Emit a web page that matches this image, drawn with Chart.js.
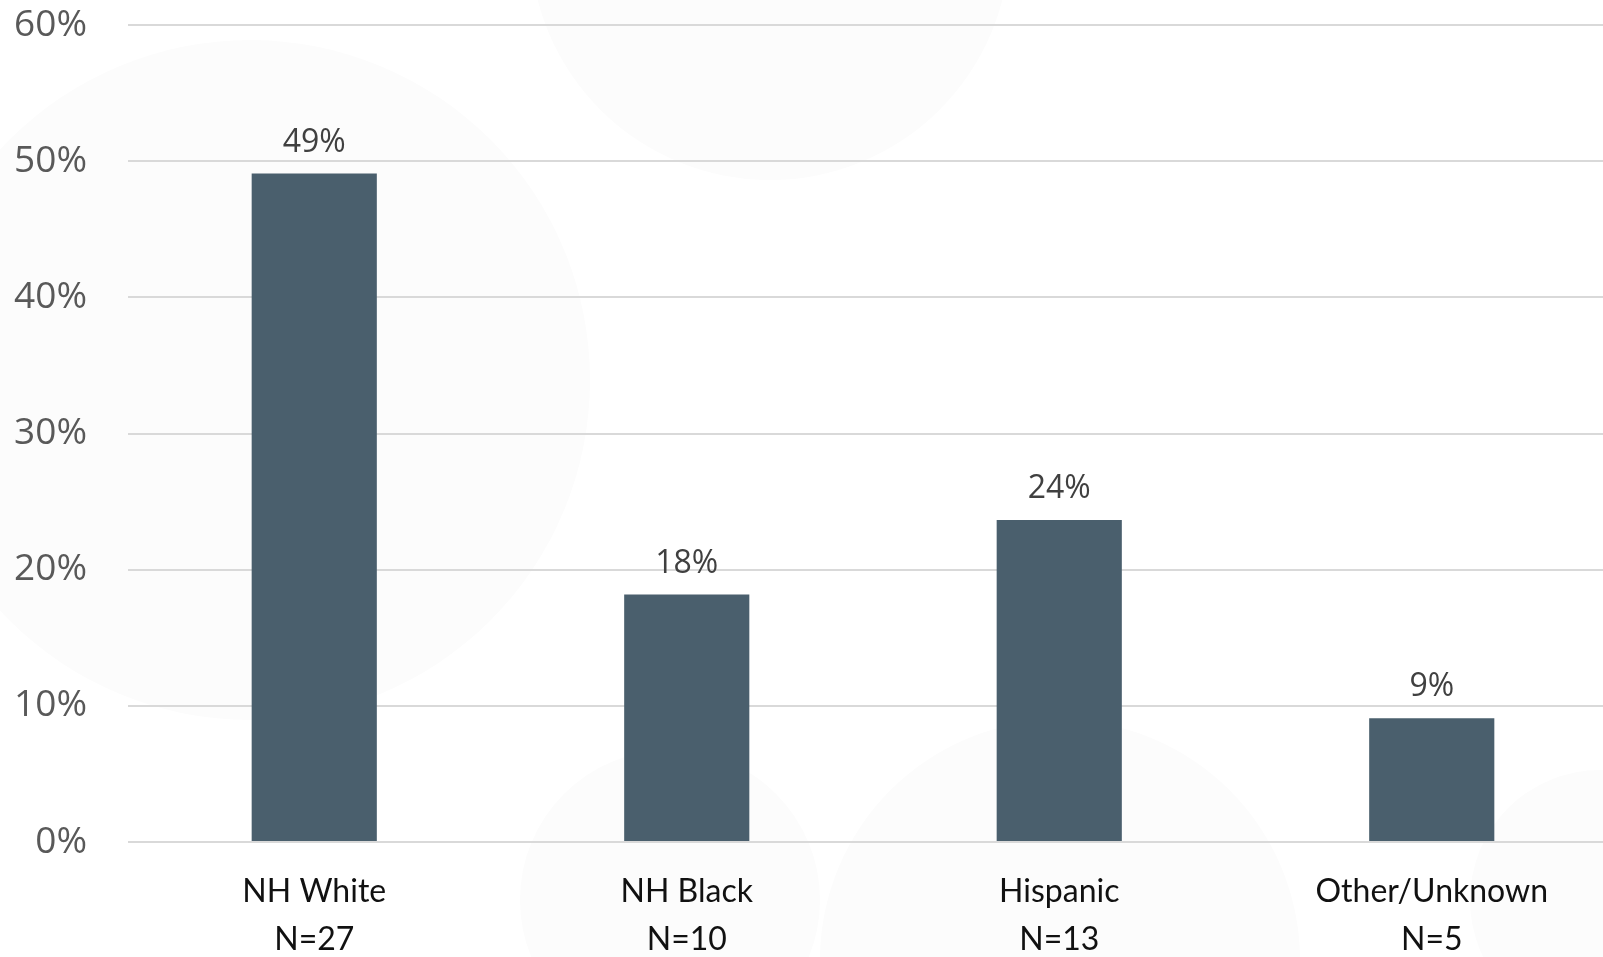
<!DOCTYPE html>
<html>
<head>
<meta charset="utf-8">
<script src="https://cdn.jsdelivr.net/npm/chart.js@4/dist/chart.umd.min.js"></script>
<style>
  html, body { margin: 0; padding: 0; background: #ffffff; overflow: hidden; width: 1603px; height: 957px; }
  #wrap { position: relative; width: 1620px; height: 957px; }
  .blob { position: absolute; border-radius: 50%; background: #fcfcfc; }
  canvas { position: absolute; left: 0; top: 0; }
</style>
</head>
<body>
<div id="wrap">
  <div class="blob" style="left:-90px; top:40px; width:680px; height:680px;"></div>
  <div class="blob" style="left:530px; top:-300px; width:480px; height:480px;"></div>
  <div class="blob" style="left:520px; top:750px; width:300px; height:300px;"></div>
  <div class="blob" style="left:820px; top:720px; width:480px; height:480px;"></div>
  <div class="blob" style="left:1470px; top:770px; width:260px; height:260px;"></div>
  <canvas id="c" width="1620" height="957"></canvas>
</div>
<script>
const categories = ["NH White", "NH Black", "Hispanic", "Other/Unknown"];
const counts = [27, 10, 13, 5];
const percentValues = [49.09, 18.18, 23.64, 9.09];
const valueLabels = ["49%", "18%", "24%", "9%"];
const yTicks = [0, 10, 20, 30, 40, 50, 60];

const xLabels = categories.map((c, i) => [c, "N=" + counts[i]]);

const valueLabelPlugin = {
  id: "valueLabels",
  afterDatasetsDraw(chart) {
    const ctx = chart.ctx;
    const meta = chart.getDatasetMeta(0);
    ctx.save();
    ctx.font = "32px 'Open Sans'";
    ctx.fillStyle = "#404040";
    ctx.textAlign = "center";
    ctx.textBaseline = "middle";
    meta.data.forEach((bar, i) => {
      ctx.fillText(valueLabels[i], bar.x, bar.y - 31);
    });
    ctx.restore();
  }
};

new Chart(document.getElementById("c"), {
  type: "bar",
  data: {
    labels: xLabels,
    datasets: [{
      data: percentValues,
      backgroundColor: "#4A5F6D",
      borderWidth: 0,
      barPercentage: 0.336,
      categoryPercentage: 1.0
    }]
  },
  options: {
    responsive: false,
    animation: false,
    devicePixelRatio: 1,
    layout: { padding: { top: 25, right: 2, left: 0, bottom: 0 } },
    plugins: { legend: { display: false }, tooltip: { enabled: false } },
    scales: {
      x: {
        grid: { display: false, drawTicks: false },
        border: { display: false },
        ticks: {
          color: "#111111",
          font: { family: "Lato", size: 32, lineHeight: "48px" },
          padding: 26,
          maxRotation: 0,
          autoSkip: false
        },
        afterFit(scale) { scale.height = 115; scale.paddingLeft = 0; scale.paddingRight = 0; }
      },
      y: {
        min: 0,
        max: 60,
        afterBuildTicks(scale) { scale.ticks = yTicks.map(v => ({ value: v })); },
        grid: { color: "#d9d9d9", lineWidth: 2, drawTicks: false },
        border: { display: false },
        ticks: {
          color: "#595959",
          font: { family: "Open Sans", size: 37 },
          padding: 41,
          callback: v => v + "%"
        },
        afterFit(scale) { scale.width = 128; scale.paddingTop = 0; scale.paddingBottom = 0; }
      }
    }
  },
  plugins: [valueLabelPlugin]
});
</script>
</body>
</html>
